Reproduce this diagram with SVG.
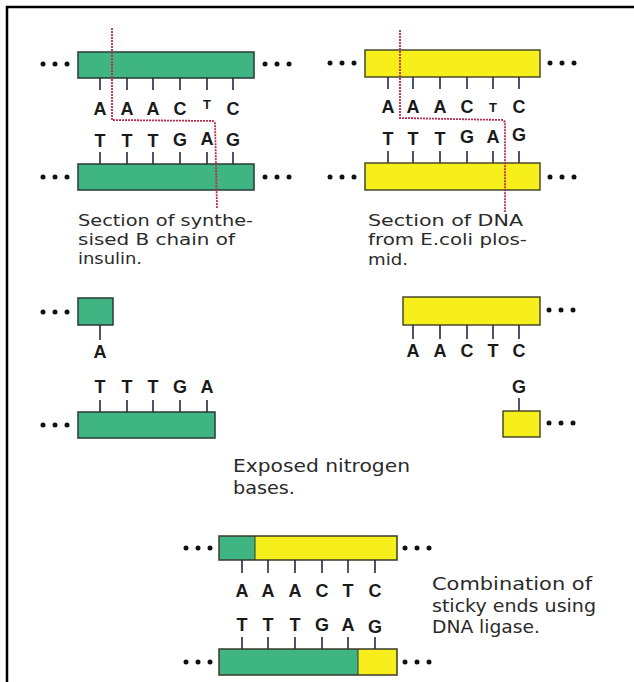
<svg xmlns="http://www.w3.org/2000/svg" width="634" height="682" viewBox="0 0 634 682">
<style>
.g{fill:#3fb584;stroke:#2a3a33;stroke-width:1.5}
.y{fill:#f7ef1c;stroke:#4a4a2a;stroke-width:1.5}
.tk{stroke:#222b44;stroke-width:1.6}
.b{font-family:"Liberation Sans",Arial,sans-serif;font-weight:bold;font-size:18px;fill:#1a1a1a;text-anchor:middle}
.sm{font-size:13px}
.lb{font-family:"DejaVu Sans","Liberation Sans",sans-serif;font-size:16px;fill:#2a2a2a}
.lc{font-family:"DejaVu Sans","Liberation Sans",sans-serif;font-size:17px;fill:#2a2a2a}
.d{fill:#111}
.cut{fill:none;stroke:#c02a48;stroke-width:1.8;stroke-dasharray:2 1}
</style>
<defs>
<g id="dots"><circle class="d" cx="0" cy="0" r="2.5"/><circle class="d" cx="12" cy="0" r="2.5"/><circle class="d" cx="24" cy="0" r="2.5"/></g>
</defs>
<rect x="0" y="0" width="634" height="682" fill="#fff"/>
<path d="M7 682 V7 H634" fill="none" stroke="#000" stroke-width="2.5"/>

<g id="insulin-section">
<use href="#dots" x="43" y="64"/><use href="#dots" x="265" y="64"/>
<rect class="g" x="78" y="52" width="176" height="26"/>
<path class="tk" d="M100 78v12M127 78v12M153 78v12M180 78v12M207 78v12M233 78v12"/>
<text class="b" x="100" y="115">A</text><text class="b" x="127" y="115">A</text><text class="b" x="153" y="115">A</text><text class="b" x="180" y="115">C</text><text class="b sm" x="207" y="109">T</text><text class="b" x="233" y="115">C</text>
<text class="b" x="100" y="147">T</text><text class="b" x="127" y="147">T</text><text class="b" x="153" y="147">T</text><text class="b" x="180" y="146">G</text><text class="b" x="207" y="145">A</text><text class="b" x="233" y="146">G</text>
<path class="tk" d="M100 152v12M127 152v12M153 152v12M180 152v12M207 152v12M233 152v12"/>
<rect class="g" x="78" y="164" width="176" height="26"/>
<use href="#dots" x="43" y="177"/><use href="#dots" x="265" y="177"/>
<path class="cut" d="M112 28 V120 L213 121 L215 123 L217 208"/>
<text class="lb" x="78" y="226" textLength="175" lengthAdjust="spacingAndGlyphs">Section of synthe-</text>
<text class="lb" x="78" y="245" textLength="157" lengthAdjust="spacingAndGlyphs">sised B chain of</text>
<text class="lb" x="78" y="264" textLength="64" lengthAdjust="spacingAndGlyphs">insulin.</text>
</g>

<g id="ecoli-section">
<use href="#dots" x="330" y="63"/><use href="#dots" x="550" y="63"/>
<rect class="y" x="365" y="50" width="175" height="27"/>
<path class="tk" d="M388 77v12M413 77v12M440 77v12M467 77v12M493 77v12M519 77v12"/>
<text class="b" x="388" y="113">A</text><text class="b" x="413" y="113">A</text><text class="b" x="440" y="113">A</text><text class="b" x="467" y="113">C</text><text class="b sm" x="493" y="112">T</text><text class="b" x="519" y="113">C</text>
<text class="b" x="388" y="145">T</text><text class="b" x="413" y="145">T</text><text class="b" x="440" y="145">T</text><text class="b" x="467" y="143">G</text><text class="b" x="493" y="143">A</text><text class="b" x="519" y="141">G</text>
<path class="tk" d="M388 151v12M413 151v12M440 151v12M467 151v12M493 151v12M519 151v12"/>
<rect class="y" x="365" y="163" width="175" height="27"/>
<use href="#dots" x="550" y="177"/><use href="#dots" x="330" y="177"/>
<path class="cut" d="M400 30 V118 L503 120 L505 122 L505 212"/>
<text class="lb" x="368" y="226" textLength="155" lengthAdjust="spacingAndGlyphs">Section of DNA</text>
<text class="lb" x="368" y="245" textLength="159" lengthAdjust="spacingAndGlyphs">from E.coli plos-</text>
<text class="lb" x="368" y="265" textLength="40" lengthAdjust="spacingAndGlyphs">mid.</text>
</g>

<g id="insulin-cut">
<use href="#dots" x="43" y="312"/>
<rect class="g" x="78" y="298" width="35" height="27"/>
<path class="tk" d="M100 325v15"/>
<text class="b" x="100" y="358">A</text>
<text class="b" x="100" y="393">T</text><text class="b" x="127" y="393">T</text><text class="b" x="153" y="393">T</text><text class="b" x="180" y="393">G</text><text class="b" x="207" y="393">A</text>
<path class="tk" d="M100 400v12M127 400v12M153 400v12M180 400v12M207 400v12"/>
<rect class="g" x="78" y="412" width="137" height="26"/>
<use href="#dots" x="43" y="425"/>
</g>

<g id="ecoli-cut">
<rect class="y" x="403" y="297" width="137" height="28"/>
<use href="#dots" x="549" y="310"/>
<path class="tk" d="M413 325v14M440 325v14M467 325v14M493 325v14M519 325v14"/>
<text class="b" x="413" y="357">A</text><text class="b" x="440" y="357">A</text><text class="b" x="467" y="357">C</text><text class="b" x="493" y="357">T</text><text class="b" x="519" y="357">C</text>
<text class="b" x="519" y="393">G</text>
<path class="tk" d="M519 398v13"/>
<rect class="y" x="503" y="411" width="37" height="26"/>
<use href="#dots" x="549" y="423"/>
</g>

<g id="exposed-label">
<text class="lc" x="233" y="472" textLength="177" lengthAdjust="spacingAndGlyphs">Exposed nitrogen</text>
<text class="lc" x="233" y="494" textLength="62" lengthAdjust="spacingAndGlyphs">bases.</text>
</g>

<g id="combined">
<use href="#dots" x="186" y="548"/><use href="#dots" x="405" y="548"/>
<rect x="219" y="536" width="178" height="24" fill="#f7ef1c"/>
<rect x="219" y="536" width="36" height="24" fill="#3fb584"/>
<rect x="219" y="536" width="178" height="24" fill="none" stroke="#3a3a2a" stroke-width="1.5"/>
<path d="M255 536v24" stroke="#2a3a33" stroke-width="1"/>
<path class="tk" d="M242 560v13M268 560v13M295 560v13M322 560v13M348 560v13M375 560v13"/>
<text class="b" x="242" y="597">A</text><text class="b" x="268" y="597">A</text><text class="b" x="295" y="597">A</text><text class="b" x="322" y="597">C</text><text class="b" x="348" y="597">T</text><text class="b" x="375" y="597">C</text>
<text class="b" x="242" y="631">T</text><text class="b" x="268" y="631">T</text><text class="b" x="295" y="631">T</text><text class="b" x="322" y="631">G</text><text class="b" x="348" y="631">A</text><text class="b" x="375" y="633">G</text>
<path class="tk" d="M242 637v12M268 637v12M295 637v12M322 637v12M348 637v12M375 637v12"/>
<rect x="219" y="649" width="178" height="26" fill="#f7ef1c"/>
<rect x="219" y="649" width="139" height="26" fill="#3fb584"/>
<rect x="219" y="649" width="178" height="26" fill="none" stroke="#3a3a2a" stroke-width="1.5"/>
<path d="M358 649v26" stroke="#2a3a33" stroke-width="1"/>
<use href="#dots" x="186" y="662"/><use href="#dots" x="405" y="662"/>
<text class="lc" x="432" y="590" textLength="160" lengthAdjust="spacingAndGlyphs">Combination of</text>
<text class="lc" x="432" y="612" textLength="164" lengthAdjust="spacingAndGlyphs">sticky ends using</text>
<text class="lc" x="432" y="633" textLength="108" lengthAdjust="spacingAndGlyphs">DNA ligase.</text>
</g>
</svg>
